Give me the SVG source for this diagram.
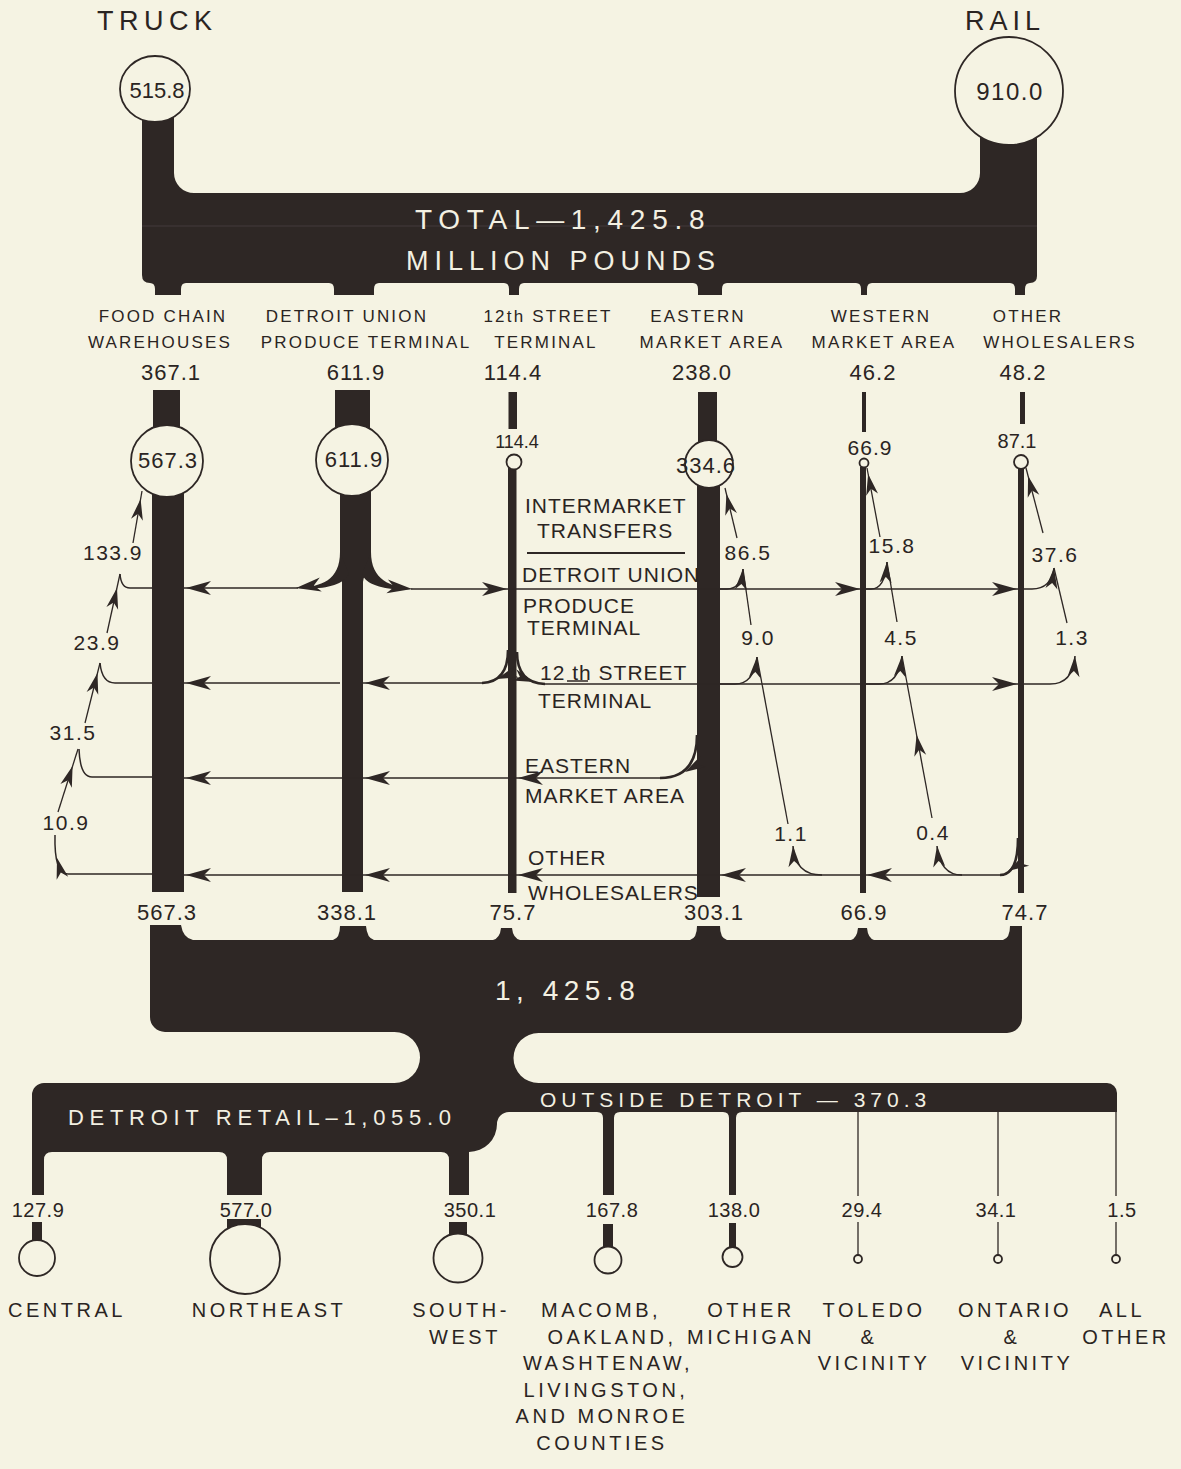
<svg xmlns="http://www.w3.org/2000/svg" width="1181" height="1469" viewBox="0 0 1181 1469">
<defs>
<style>
.dk{fill:#2e2725}
.ln{fill:none;stroke:#2e2725;stroke-width:1.5}
.ch{fill:none;stroke:#2e2725;stroke-width:1.3}
.fl{fill:none;stroke:#2e2725;stroke-width:2.6}
.ci{fill:#f5f3e3;stroke:#2e2725;stroke-width:1.8}
text{font-family:"Liberation Sans",Arial,sans-serif;fill:#2a2422}
.h{font-size:17px;letter-spacing:2.2px;text-anchor:middle}
.n{font-size:22px;letter-spacing:1px;text-anchor:middle}
.s{font-size:21px;letter-spacing:1.5px;text-anchor:middle}
.m{font-size:21px;letter-spacing:1px}
.w{fill:#f3f0e2}
.b{font-size:20px;letter-spacing:3.5px;text-anchor:middle}
.bn{font-size:20px;letter-spacing:0.5px;text-anchor:middle}
</style>
<path id="ah" d="M0,0 L-25,-7 L-18,0 L-25,7 Z" fill="#2e2725"/>
<path id="as" d="M0,0 L-21,-6 L-15,0 L-21,6 Z" fill="#2e2725"/>
</defs>
<rect width="1181" height="1469" fill="#f5f3e3"/>

<g id="total-bar">
<path class="dk" d="M142,100 H174 V173 A20,20 0 0 0 194,193 H960 A20,20 0 0 0 980,173 V120 H1037 V276 Q1037,283 1030,283 Q1025,283 1025,289 V295 H1015 V289 Q1015,283 1010,283 H872 Q867,283 867,289 V295 H861 V289 Q861,283 856,283 H727 Q722,283 722,289 V295 H698 V289 Q698,283 693,283 H524 Q519,283 519,289 V295 H509 V289 Q509,283 504,283 H379 Q374,283 374,289 V295 H334 V289 Q334,283 329,283 H186 Q181,283 181,289 V295 H155 V289 Q155,283 150,283 Q142,283 142,275 Z"/>
<line x1="142" y1="226" x2="1037" y2="226" stroke="#383030" stroke-width="2"/>
<text class="w" x="415" y="229" font-size="28" letter-spacing="6.7">TOTAL—1,425.8</text>
<text class="w" x="406" y="270" font-size="27" letter-spacing="6">MILLION POUNDS</text>
</g>

<g id="truck">
<text x="97" y="30" font-size="27" letter-spacing="5.5">TRUCK</text>
<ellipse class="ci" cx="155" cy="89" rx="35" ry="33"/>
<text x="157" y="98" font-size="22" text-anchor="middle">515.8</text>
</g>

<g id="rail">
<text x="965" y="30" font-size="27" letter-spacing="5">RAIL</text>
<circle class="ci" cx="1009" cy="91" r="54"/>
<text x="1010" y="100" font-size="24" letter-spacing="1.5" text-anchor="middle">910.0</text>
</g>

<g id="food-chain">
<text class="h" x="163" y="322">FOOD CHAIN</text>
<text class="h" x="160" y="348">WAREHOUSES</text>
<text class="n" x="171" y="380">367.1</text>
<rect class="dk" x="153" y="390" width="27" height="40"/>
<rect class="dk" x="152" y="490" width="32" height="402"/>
<circle class="ci" cx="167" cy="461" r="36"/>
<text class="n" x="168" y="468">567.3</text>
<text class="n" x="167" y="920">567.3</text>
</g>

<g id="detroit-union">
<text class="h" x="347" y="322">DETROIT UNION</text>
<text class="h" x="366" y="348">PRODUCE TERMINAL</text>
<text class="n" x="356" y="380">611.9</text>
<rect class="dk" x="335" y="390" width="35" height="40"/>
<path class="dk" d="M340,490 H371 V556 C371,568 364,573 363,582 V892 H342 V582 C341,573 340,568 340,556 Z"/>
<path class="dk" d="M340,552 C340,580 322,587 296,588 C322,590 343,586 349,574 Z"/>
<path class="dk" d="M371,552 C371,580 390,587 414,589 C389,591 366,586 362,574 Z"/>
<circle class="ci" cx="352" cy="460" r="36"/>
<text class="n" x="354" y="467">611.9</text>
<text class="n" x="347" y="920">338.1</text>
</g>

<g id="twelfth-street">
<text class="h" x="548" y="322">12th STREET</text>
<text class="h" x="546" y="348">TERMINAL</text>
<text class="n" x="513" y="380">114.4</text>
<rect class="dk" x="508.5" y="392" width="8.5" height="37"/>
<rect class="dk" x="508" y="468" width="8.5" height="425"/>
<circle class="ci" cx="514" cy="462" r="7.5"/>
<text x="517" y="448" font-size="18" text-anchor="middle">114.4</text>
<text class="n" x="513" y="920">75.7</text>
</g>

<g id="eastern-market">
<text class="h" x="698" y="322">EASTERN</text>
<text class="h" x="712" y="348">MARKET AREA</text>
<text class="n" x="702" y="380">238.0</text>
<rect class="dk" x="698" y="392" width="19" height="52"/>
<rect class="dk" x="697" y="484" width="23" height="413"/>
<circle class="ci" cx="709" cy="464" r="24"/>
<text class="n" x="706" y="473">334.6</text>
<text class="n" x="714" y="920">303.1</text>
</g>

<g id="western-market">
<text class="h" x="881" y="322">WESTERN</text>
<text class="h" x="884" y="348">MARKET AREA</text>
<text class="n" x="873" y="380">46.2</text>
<rect class="dk" x="862" y="392" width="4" height="40"/>
<rect class="dk" x="860" y="467" width="6" height="426"/>
<circle class="ci" cx="864" cy="463" r="4.5"/>
<text x="870" y="455" font-size="21" letter-spacing="1" text-anchor="middle">66.9</text>
<text class="n" x="864" y="920">66.9</text>
</g>

<g id="other-wholesalers">
<text class="h" x="1028" y="322">OTHER</text>
<text class="h" x="1060" y="348">WHOLESALERS</text>
<text class="n" x="1023" y="380">48.2</text>
<rect class="dk" x="1020" y="392" width="5" height="32"/>
<rect class="dk" x="1018" y="468" width="6" height="425"/>
<circle class="ci" cx="1021" cy="462" r="7"/>
<text x="1017" y="448" font-size="20" text-anchor="middle">87.1</text>
<text class="n" x="1025" y="920">74.7</text>
</g>

<g id="transfer-legend">
<text class="m" x="525" y="513">INTERMARKET</text>
<text class="m" x="537" y="538">TRANSFERS</text>
<line x1="527" y1="553" x2="685" y2="553" stroke="#2e2725" stroke-width="2"/>
<text class="m" x="522" y="582" letter-spacing="0.3">DETROIT UNION</text>
<text class="m" x="523" y="613">PRODUCE</text>
<text class="m" x="527" y="635">TERMINAL</text>
<text class="m" x="540" y="680">12 th STREET</text>
<line x1="567" y1="681" x2="588" y2="681" stroke="#2e2725" stroke-width="1.5"/>
<text class="m" x="538" y="708">TERMINAL</text>
<text class="m" x="525" y="773">EASTERN</text>
<text class="m" x="525" y="803" letter-spacing="0.8">MARKET AREA</text>
<text class="m" x="528" y="865">OTHER</text>
<text class="m" x="528" y="900" letter-spacing="0.5">WHOLESALERS</text>
</g>

<g id="connectors">
<!-- line 1: Detroit Union Produce Terminal -->
<path class="ln" d="M152,588 H130 Q121,588 120,574"/>
<path class="ln" d="M184,588 H298"/>
<path class="ln" d="M411,589 H1018"/>
<use href="#ah" transform="translate(186,588) rotate(180)"/>
<use href="#ah" transform="translate(296,588) rotate(172)"/>
<use href="#ah" transform="translate(412,589) rotate(6)"/>
<use href="#ah" transform="translate(507,589)"/>
<use href="#ah" transform="translate(860,589)"/>
<use href="#ah" transform="translate(1017,589)"/>
<path class="ln" d="M720,589 H727 Q741,589 743,569"/>
<path class="ln" d="M866,589 H871 Q885,589 887,562"/>
<path class="ln" d="M1024,589 H1032 Q1051,589 1054,568"/>
<use href="#as" transform="translate(743,569) rotate(-84)"/>
<use href="#as" transform="translate(887,562) rotate(-86)"/>
<use href="#as" transform="translate(1054,568) rotate(-83)"/>
<!-- line 2: 12th Street Terminal -->
<path class="ln" d="M152,683 H115 Q102,683 100,663"/>
<path class="ln" d="M184,683 H340"/>
<path class="ln" d="M363,683 H484"/>
<path class="fl" d="M508,650 Q508,682 482,683"/>
<path class="fl" d="M517,652 Q517,683 545,684"/>
<path class="ln" d="M545,684 H1018"/>
<use href="#ah" transform="translate(186,683) rotate(180)"/>
<use href="#ah" transform="translate(365,683) rotate(180)"/>
<use href="#as" transform="translate(497,679) rotate(160)"/>
<use href="#as" transform="translate(534,682) rotate(20)"/>
<use href="#ah" transform="translate(1017,684)"/>
<path class="ln" d="M720,684 H735 Q754,684 757,657"/>
<path class="ln" d="M866,684 H879 Q899,684 902,656"/>
<path class="ln" d="M1024,684 H1050 Q1073,684 1075,656"/>
<use href="#as" transform="translate(757,657) rotate(-84)"/>
<use href="#as" transform="translate(902,656) rotate(-84)"/>
<use href="#as" transform="translate(1075,656) rotate(-86)"/>
<!-- line 3: Eastern Market Area -->
<path class="ln" d="M152,777 H92 Q80,777 79,749"/>
<path class="ln" d="M184,778 H662"/>
<path class="fl" d="M697,735 Q697,778 660,778"/>
<use href="#ah" transform="translate(186,778) rotate(180)"/>
<use href="#ah" transform="translate(365,778) rotate(180)"/>
<use href="#ah" transform="translate(518,778) rotate(180)"/>
<use href="#as" transform="translate(685,772) rotate(150)"/>
<!-- line 4: Other Wholesalers -->
<path class="ln" d="M152,874 H68 Q54,874 55,835"/>
<path class="ln" d="M184,875 H1004"/>
<path class="fl" d="M1018,838 Q1018,875 1000,875"/>
<use href="#ah" transform="translate(186,875) rotate(180)"/>
<use href="#ah" transform="translate(365,875) rotate(180)"/>
<use href="#ah" transform="translate(518,875) rotate(180)"/>
<use href="#ah" transform="translate(721,875) rotate(180)"/>
<use href="#ah" transform="translate(867,875) rotate(180)"/>
<use href="#as" transform="translate(1008,871) rotate(150)"/>
<path class="ln" d="M822,875 Q795,875 793,846"/>
<path class="ln" d="M962,875 Q940,875 937,846"/>
<use href="#as" transform="translate(793,846) rotate(-94)"/>
<use href="#as" transform="translate(937,846) rotate(-96)"/>
<use href="#as" transform="translate(57,858) rotate(-105)"/>
<!-- chains to food chain warehouses -->
<path class="ch" d="M58,812 L78,749"/>
<path class="ch" d="M85,723 L100,663"/>
<path class="ch" d="M107,633 L120,574"/>
<path class="ch" d="M133,543 L142,491"/>
<use href="#as" transform="translate(72.6,766) rotate(-72)"/>
<use href="#as" transform="translate(97.5,673) rotate(-76)"/>
<use href="#as" transform="translate(117,588) rotate(-77)"/>
<use href="#as" transform="translate(140.6,499) rotate(-80)"/>
<!-- chains to eastern market -->
<path class="ch" d="M788,824 L757,657"/>
<path class="ch" d="M751,625 L743,569"/>
<path class="ch" d="M737,538 L725,488"/>
<use href="#as" transform="translate(726.4,494) rotate(-103)"/>
<!-- chains to western market -->
<path class="ch" d="M932,818 L902,656"/>
<path class="ch" d="M897,622 L887,562"/>
<path class="ch" d="M880,537 L867,468"/>
<use href="#as" transform="translate(916.6,735) rotate(-100)"/>
<use href="#as" transform="translate(868.1,474) rotate(-101)"/>
<!-- chains to other wholesalers -->
<path class="ch" d="M1067,623 L1054,568"/>
<path class="ch" d="M1043,533 L1026,468"/>
<use href="#as" transform="translate(1028.1,476) rotate(-105)"/>
<!-- flow labels -->
<text class="s" x="113" y="560">133.9</text>
<text class="s" x="97" y="650" letter-spacing="3">23.9</text>
<text class="s" x="73" y="740" letter-spacing="3">31.5</text>
<text class="s" x="66" y="830" letter-spacing="1.5">10.9</text>
<text class="s" x="748" y="560" letter-spacing="0.5">86.5</text>
<text class="s" x="758" y="645" letter-spacing="2">9.0</text>
<text class="s" x="791" y="841" letter-spacing="2">1.1</text>
<text class="s" x="892" y="553" letter-spacing="0.5">15.8</text>
<text class="s" x="901" y="645" letter-spacing="1">4.5</text>
<text class="s" x="933" y="840" letter-spacing="1">0.4</text>
<text class="s" x="1055" y="562">37.6</text>
<text class="s" x="1072" y="645" letter-spacing="1">1.3</text>
</g>

<g id="total-out">
<path class="dk" d="M150,925 H181 Q183,938 193,940 H333 Q340,938 340,926 H366 Q367,938 374,940 H493 Q500,938 501,928 H512 Q513,938 520,940 H690 Q697,938 697,926 H720 Q720,938 727,940 H851 Q857,938 858,928 H867 Q868,938 874,940 H1003 Q1010,938 1010,926 H1022 V1018 A15,15 0 0 1 1007,1033 H538.5 A25,25 0 0 0 538.5,1083 H1107 A10,10 0 0 1 1117,1093 V1112 H742 Q736,1112 736,1118 V1195 H729 V1118 Q729,1112 723,1112 H620 Q614,1112 614,1118 V1195 H603 V1118 Q603,1112 597,1112 H509 A12,12 0 0 0 497,1124 A28,28 0 0 1 469,1152 V1195 H449 V1160 Q449,1152 441,1152 H270 Q262,1152 262,1160 V1195 H227 V1160 Q227,1152 219,1152 H52 Q44,1152 44,1160 V1195 H32 V1095 A12,12 0 0 1 44,1083 H394.5 A25.5,25.5 0 0 0 394.5,1032 H165 A15,15 0 0 1 150,1017 Z"/>
<text class="w" x="495" y="1000" font-size="28" letter-spacing="5.5">1, 425.8</text>
<text class="w" x="68" y="1125" font-size="22" letter-spacing="5.7">DETROIT RETAIL–1,055.0</text>
<text class="w" x="540" y="1107" font-size="21" letter-spacing="5">OUTSIDE DETROIT — 370.3</text>
</g>

<g id="central">
<text class="bn" x="38" y="1217">127.9</text>
<rect class="dk" x="32" y="1222" width="10" height="20"/>
<circle class="ci" cx="37" cy="1258" r="18"/>
<text class="b" x="67" y="1317">CENTRAL</text>
</g>
<g id="northeast">
<text class="bn" x="246" y="1217">577.0</text>
<rect class="dk" x="227" y="1219" width="34" height="10"/>
<circle class="ci" cx="245" cy="1259" r="35"/>
<text class="b" x="269" y="1317">NORTHEAST</text>
</g>
<g id="southwest">
<text class="bn" x="470" y="1217">350.1</text>
<rect class="dk" x="449" y="1222" width="18" height="14"/>
<circle class="ci" cx="458" cy="1258" r="24.5"/>
<text class="b" x="461" y="1317">SOUTH-</text>
<text class="b" x="465" y="1344">WEST</text>
</g>
<g id="macomb">
<text class="bn" x="612" y="1217">167.8</text>
<rect class="dk" x="603" y="1224" width="10" height="24"/>
<circle class="ci" cx="608" cy="1260" r="13.5"/>
<text class="b" x="601" y="1317">MACOMB,</text>
<text class="b" x="612" y="1344">OAKLAND,</text>
<text class="b" x="608" y="1370">WASHTENAW,</text>
<text class="b" x="606" y="1397">LIVINGSTON,</text>
<text class="b" x="602" y="1423">AND MONROE</text>
<text class="b" x="602" y="1450">COUNTIES</text>
</g>
<g id="other-michigan">
<text class="bn" x="734" y="1217">138.0</text>
<rect class="dk" x="729" y="1223" width="7" height="25"/>
<circle class="ci" cx="732.5" cy="1257" r="10"/>
<text class="b" x="751" y="1317">OTHER</text>
<text class="b" x="751" y="1344">MICHIGAN</text>
</g>
<g id="toledo">
<line x1="858" y1="1110" x2="858" y2="1196" stroke="#2e2725" stroke-width="1.3"/>
<text class="bn" x="862" y="1217">29.4</text>
<line x1="858" y1="1222" x2="858" y2="1255" stroke="#2e2725" stroke-width="1.3"/>
<circle class="ci" cx="858" cy="1259" r="4" stroke-width="1.3"/>
<text class="b" x="874" y="1317">TOLEDO</text>
<text class="b" x="869" y="1344">&amp;</text>
<text class="b" x="874" y="1370">VICINITY</text>
</g>
<g id="ontario">
<line x1="998" y1="1110" x2="998" y2="1196" stroke="#2e2725" stroke-width="1.3"/>
<text class="bn" x="996" y="1217">34.1</text>
<line x1="998" y1="1222" x2="998" y2="1255" stroke="#2e2725" stroke-width="1.3"/>
<circle class="ci" cx="998" cy="1259" r="4" stroke-width="1.3"/>
<text class="b" x="1015" y="1317">ONTARIO</text>
<text class="b" x="1012" y="1344">&amp;</text>
<text class="b" x="1017" y="1370">VICINITY</text>
</g>
<g id="all-other">
<line x1="1116" y1="1110" x2="1116" y2="1196" stroke="#2e2725" stroke-width="1.3"/>
<text class="bn" x="1122" y="1217">1.5</text>
<line x1="1116" y1="1222" x2="1116" y2="1255" stroke="#2e2725" stroke-width="1.3"/>
<circle class="ci" cx="1116" cy="1259" r="4" stroke-width="1.3"/>
<text class="b" x="1122" y="1317">ALL</text>
<text class="b" x="1126" y="1344">OTHER</text>
</g>
</svg>
